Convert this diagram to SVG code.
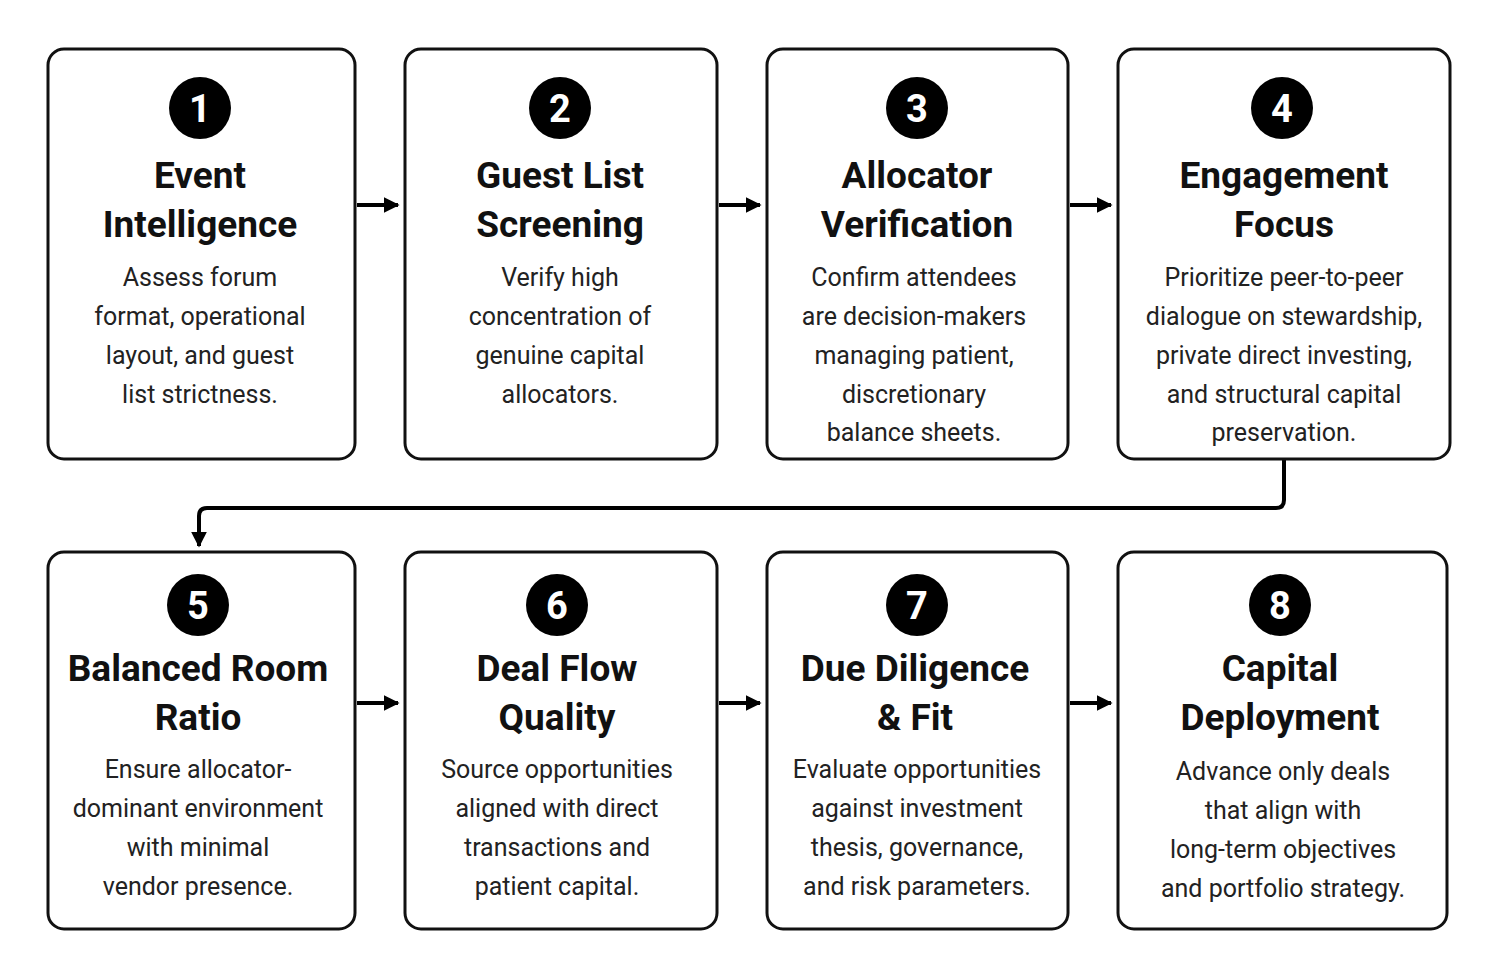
<svg xmlns="http://www.w3.org/2000/svg" width="1495" height="975" viewBox="0 0 1495 975">
<defs>
<style>
.box{fill:#fff;stroke:#111;stroke-width:3}
.num{fill:#000}
.nt{fill:#fff;font-family:Roboto,"Liberation Sans",sans-serif;font-weight:700;font-size:38px;text-anchor:middle}
.t{fill:#111;font-family:Roboto,"Liberation Sans",sans-serif;font-weight:700;font-size:37px;text-anchor:middle}
.b{fill:#222;font-family:Roboto,"Liberation Sans",sans-serif;font-size:25px;text-anchor:middle}
.c{fill:none;stroke:#000;stroke-width:4}
</style>
<marker id="ah" viewBox="0 0 10 10" refX="9" refY="5" markerWidth="4" markerHeight="4" orient="auto" markerUnits="strokeWidth"><path d="M0,0 L10,5 L0,10 z" fill="#000"/></marker>
</defs>
<rect width="1495" height="975" fill="#fff"/>
<g id="connectors">
<line class="c" x1="357" y1="205" x2="398" y2="205" marker-end="url(#ah)"/>
<line class="c" x1="719" y1="205" x2="760" y2="205" marker-end="url(#ah)"/>
<line class="c" x1="1070" y1="205" x2="1111" y2="205" marker-end="url(#ah)"/>
<line class="c" x1="357" y1="703" x2="398" y2="703" marker-end="url(#ah)"/>
<line class="c" x1="719" y1="703" x2="760" y2="703" marker-end="url(#ah)"/>
<line class="c" x1="1070" y1="703" x2="1111" y2="703" marker-end="url(#ah)"/>
<path class="c" d="M1284,460 V500 Q1284,508 1276,508 H207 Q199,508 199,516 V546" marker-end="url(#ah)"/>
</g>
<g id="n1"><rect class="box" x="48" y="49" width="307" height="410" rx="16"/><circle class="num" cx="200" cy="108" r="31"/><text class="nt" x="200" y="122">1</text>
<text class="t" x="200" y="188">Event</text><text class="t" x="200" y="237">Intelligence</text>
<text class="b" x="200" y="286">Assess forum</text><text class="b" x="200" y="325">format, operational</text><text class="b" x="200" y="364">layout, and guest</text><text class="b" x="200" y="403">list strictness.</text></g>
<g id="n2"><rect class="box" x="405" y="49" width="312" height="410" rx="16"/><circle class="num" cx="560" cy="108" r="31"/><text class="nt" x="560" y="122">2</text>
<text class="t" x="560" y="188">Guest List</text><text class="t" x="560" y="237">Screening</text>
<text class="b" x="560" y="286">Verify high</text><text class="b" x="560" y="325">concentration of</text><text class="b" x="560" y="364">genuine capital</text><text class="b" x="560" y="403">allocators.</text></g>
<g id="n3"><rect class="box" x="767" y="49" width="301" height="410" rx="16"/><circle class="num" cx="917" cy="108" r="31"/><text class="nt" x="917" y="122">3</text>
<text class="t" x="917" y="188">Allocator</text><text class="t" x="917" y="237">Verification</text>
<text class="b" x="914" y="286">Confirm attendees</text><text class="b" x="914" y="325">are decision-makers</text><text class="b" x="914" y="364">managing patient,</text><text class="b" x="914" y="403">discretionary</text><text class="b" x="914" y="441">balance sheets.</text></g>
<g id="n4"><rect class="box" x="1118" y="49" width="332" height="410" rx="16"/><circle class="num" cx="1282" cy="108" r="31"/><text class="nt" x="1282" y="122">4</text>
<text class="t" x="1284" y="188">Engagement</text><text class="t" x="1284" y="237">Focus</text>
<text class="b" x="1284" y="286">Prioritize peer-to-peer</text><text class="b" x="1284" y="325">dialogue on stewardship,</text><text class="b" x="1284" y="364">private direct investing,</text><text class="b" x="1284" y="403">and structural capital</text><text class="b" x="1284" y="441">preservation.</text></g>
<g id="n5"><rect class="box" x="48" y="552" width="307" height="377" rx="16"/><circle class="num" cx="198" cy="605" r="31"/><text class="nt" x="198" y="619">5</text>
<text class="t" x="198" y="681">Balanced Room</text><text class="t" x="198" y="730">Ratio</text>
<text class="b" x="198" y="778">Ensure allocator-</text><text class="b" x="198" y="817">dominant environment</text><text class="b" x="198" y="856">with minimal</text><text class="b" x="198" y="895">vendor presence.</text></g>
<g id="n6"><rect class="box" x="405" y="552" width="312" height="377" rx="16"/><circle class="num" cx="557" cy="605" r="31"/><text class="nt" x="557" y="619">6</text>
<text class="t" x="557" y="681">Deal Flow</text><text class="t" x="557" y="730">Quality</text>
<text class="b" x="557" y="778">Source opportunities</text><text class="b" x="557" y="817">aligned with direct</text><text class="b" x="557" y="856">transactions and</text><text class="b" x="557" y="895">patient capital.</text></g>
<g id="n7"><rect class="box" x="767" y="552" width="301" height="377" rx="16"/><circle class="num" cx="917" cy="605" r="31"/><text class="nt" x="917" y="619">7</text>
<text class="t" x="915" y="681">Due Diligence</text><text class="t" x="915" y="730">&amp; Fit</text>
<text class="b" x="917" y="778">Evaluate opportunities</text><text class="b" x="917" y="817">against investment</text><text class="b" x="917" y="856">thesis, governance,</text><text class="b" x="917" y="895">and risk parameters.</text></g>
<g id="n8"><rect class="box" x="1118" y="552" width="329" height="377" rx="16"/><circle class="num" cx="1280" cy="605" r="31"/><text class="nt" x="1280" y="619">8</text>
<text class="t" x="1280" y="681">Capital</text><text class="t" x="1280" y="730">Deployment</text>
<text class="b" x="1283" y="780">Advance only deals</text><text class="b" x="1283" y="819">that align with</text><text class="b" x="1283" y="858">long-term objectives</text><text class="b" x="1283" y="897">and portfolio strategy.</text></g>
</svg>
